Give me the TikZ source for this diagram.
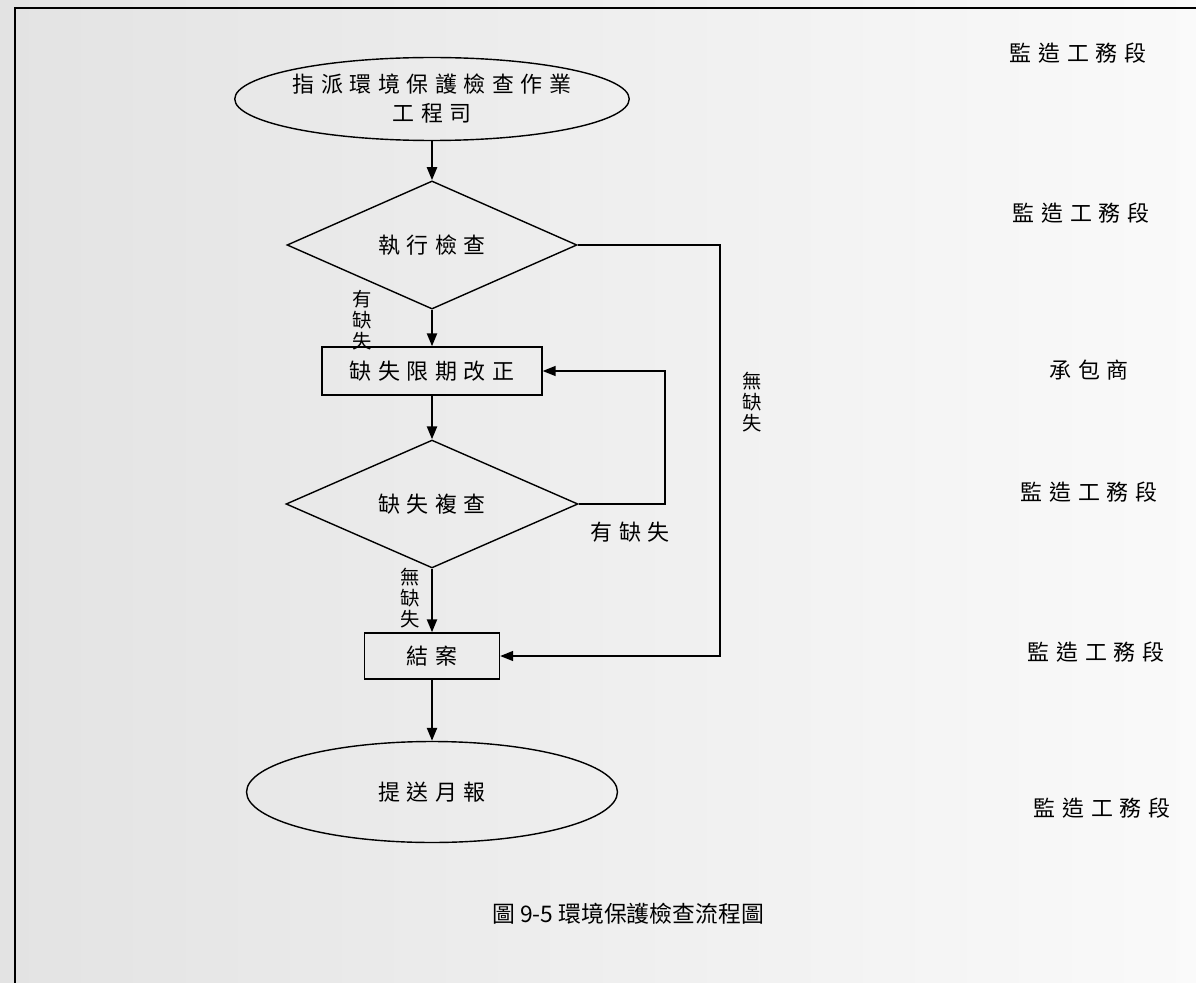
\documentclass[tikz,border=0pt]{standalone}
\usepackage{fontspec}
\newfontfamily\cjk[LetterSpace=30]{Noto Sans CJK TC}
\newfontfamily\cjkplain{Noto Sans CJK TC}
\usetikzlibrary{shapes.geometric,arrows.meta}

\tikzset{
  flowtext/.style={font=\cjk\fontsize{12.5}{16.5}\selectfont},
  oval/.style={draw, ellipse, inner sep=0pt, line width=0.8pt, flowtext, align=center},
  judge/.style={draw, diamond, inner sep=0pt, line width=0.8pt, flowtext},
  stepbox/.style={draw, rectangle, inner sep=0pt, line width=0.8pt, flowtext},
  vlabel/.style={font=\cjkplain\fontsize{11}{12}\selectfont, align=center},
  role/.style={flowtext},
  flow/.style={-{Triangle[length=0.26cm,width=0.2cm]}, line width=1.3pt},
  back/.style={-{Triangle[length=0.26cm,width=0.2cm]}, line width=0.8pt},
}

\begin{document}
\begin{tikzpicture}[x=0.02cm, y=-0.02cm]
    % 背景與邊框
    \useasboundingbox (0,0) rectangle (1196,983);
    \shade[left color=gray!22, right color=gray!4] (0,0) rectangle (1196,983);
    \draw[line width=1.6pt] (15,983) -- (15,8) -- (1196,8);

    % 流程節點
    \node[oval, minimum width=7.8cm, minimum height=1.66cm] (assign) at (432,99) {指派環境保護檢查作業\\工程司};
    \node[judge, minimum width=5.8cm, minimum height=2.08cm] (check) at (432,245) {執行檢查};
    \node[stepbox, minimum width=4.4cm, minimum height=0.96cm] (fix) at (432,371) {缺失限期改正};
    \node[judge, minimum width=5.84cm, minimum height=2.44cm] (recheck) at (432,504) {缺失複查};
    \node[stepbox, minimum width=2.7cm, minimum height=0.92cm] (close) at (432,656) {結案};
    \node[oval, minimum width=7.42cm, minimum height=2.02cm] (report) at (432,792) {提送月報};

    % 主線
    \draw[flow] (assign) -- (check);
    \draw[flow] (check) -- (fix);
    \draw[flow] (fix) -- (recheck);
    \draw[flow] (recheck) -- (close);
    \draw[flow] (close) -- (report);

    % 回路
    \coordinate (loopx) at (665,0);
    \coordinate (skipx) at (720,0);
    \draw[back] (recheck.east) -- (recheck.east -| loopx) -- (fix.east -| loopx) -- (fix.east);
    \draw[back] (check.east) -- (check.east -| skipx) -- (close.east -| skipx) -- (close.east);

    % 條件
    \node[vlabel] (yes1) at (362,320) {有\\缺\\失};
    \node[vlabel] (no1) at (752,402) {無\\缺\\失};
    \node[flowtext] (yes2) at (630,532) {有缺失};
    \node[vlabel] (no2) at (410,598) {無\\缺\\失};

    % 負責單位
    \foreach \x/\y/\who [count=\i] in {1078/53/監造工務段, 1081/213/監造工務段, 1089/370/承包商,
        1089/492/監造工務段, 1096/652/監造工務段, 1102/808/監造工務段}
        \node[role] (role\i) at (\x,\y) {\who};

    \node[font=\cjkplain\fontsize{13}{15}\selectfont] (caption) at (628,914) {圖 9-5 環境保護檢查流程圖};
\end{tikzpicture}
\end{document}
